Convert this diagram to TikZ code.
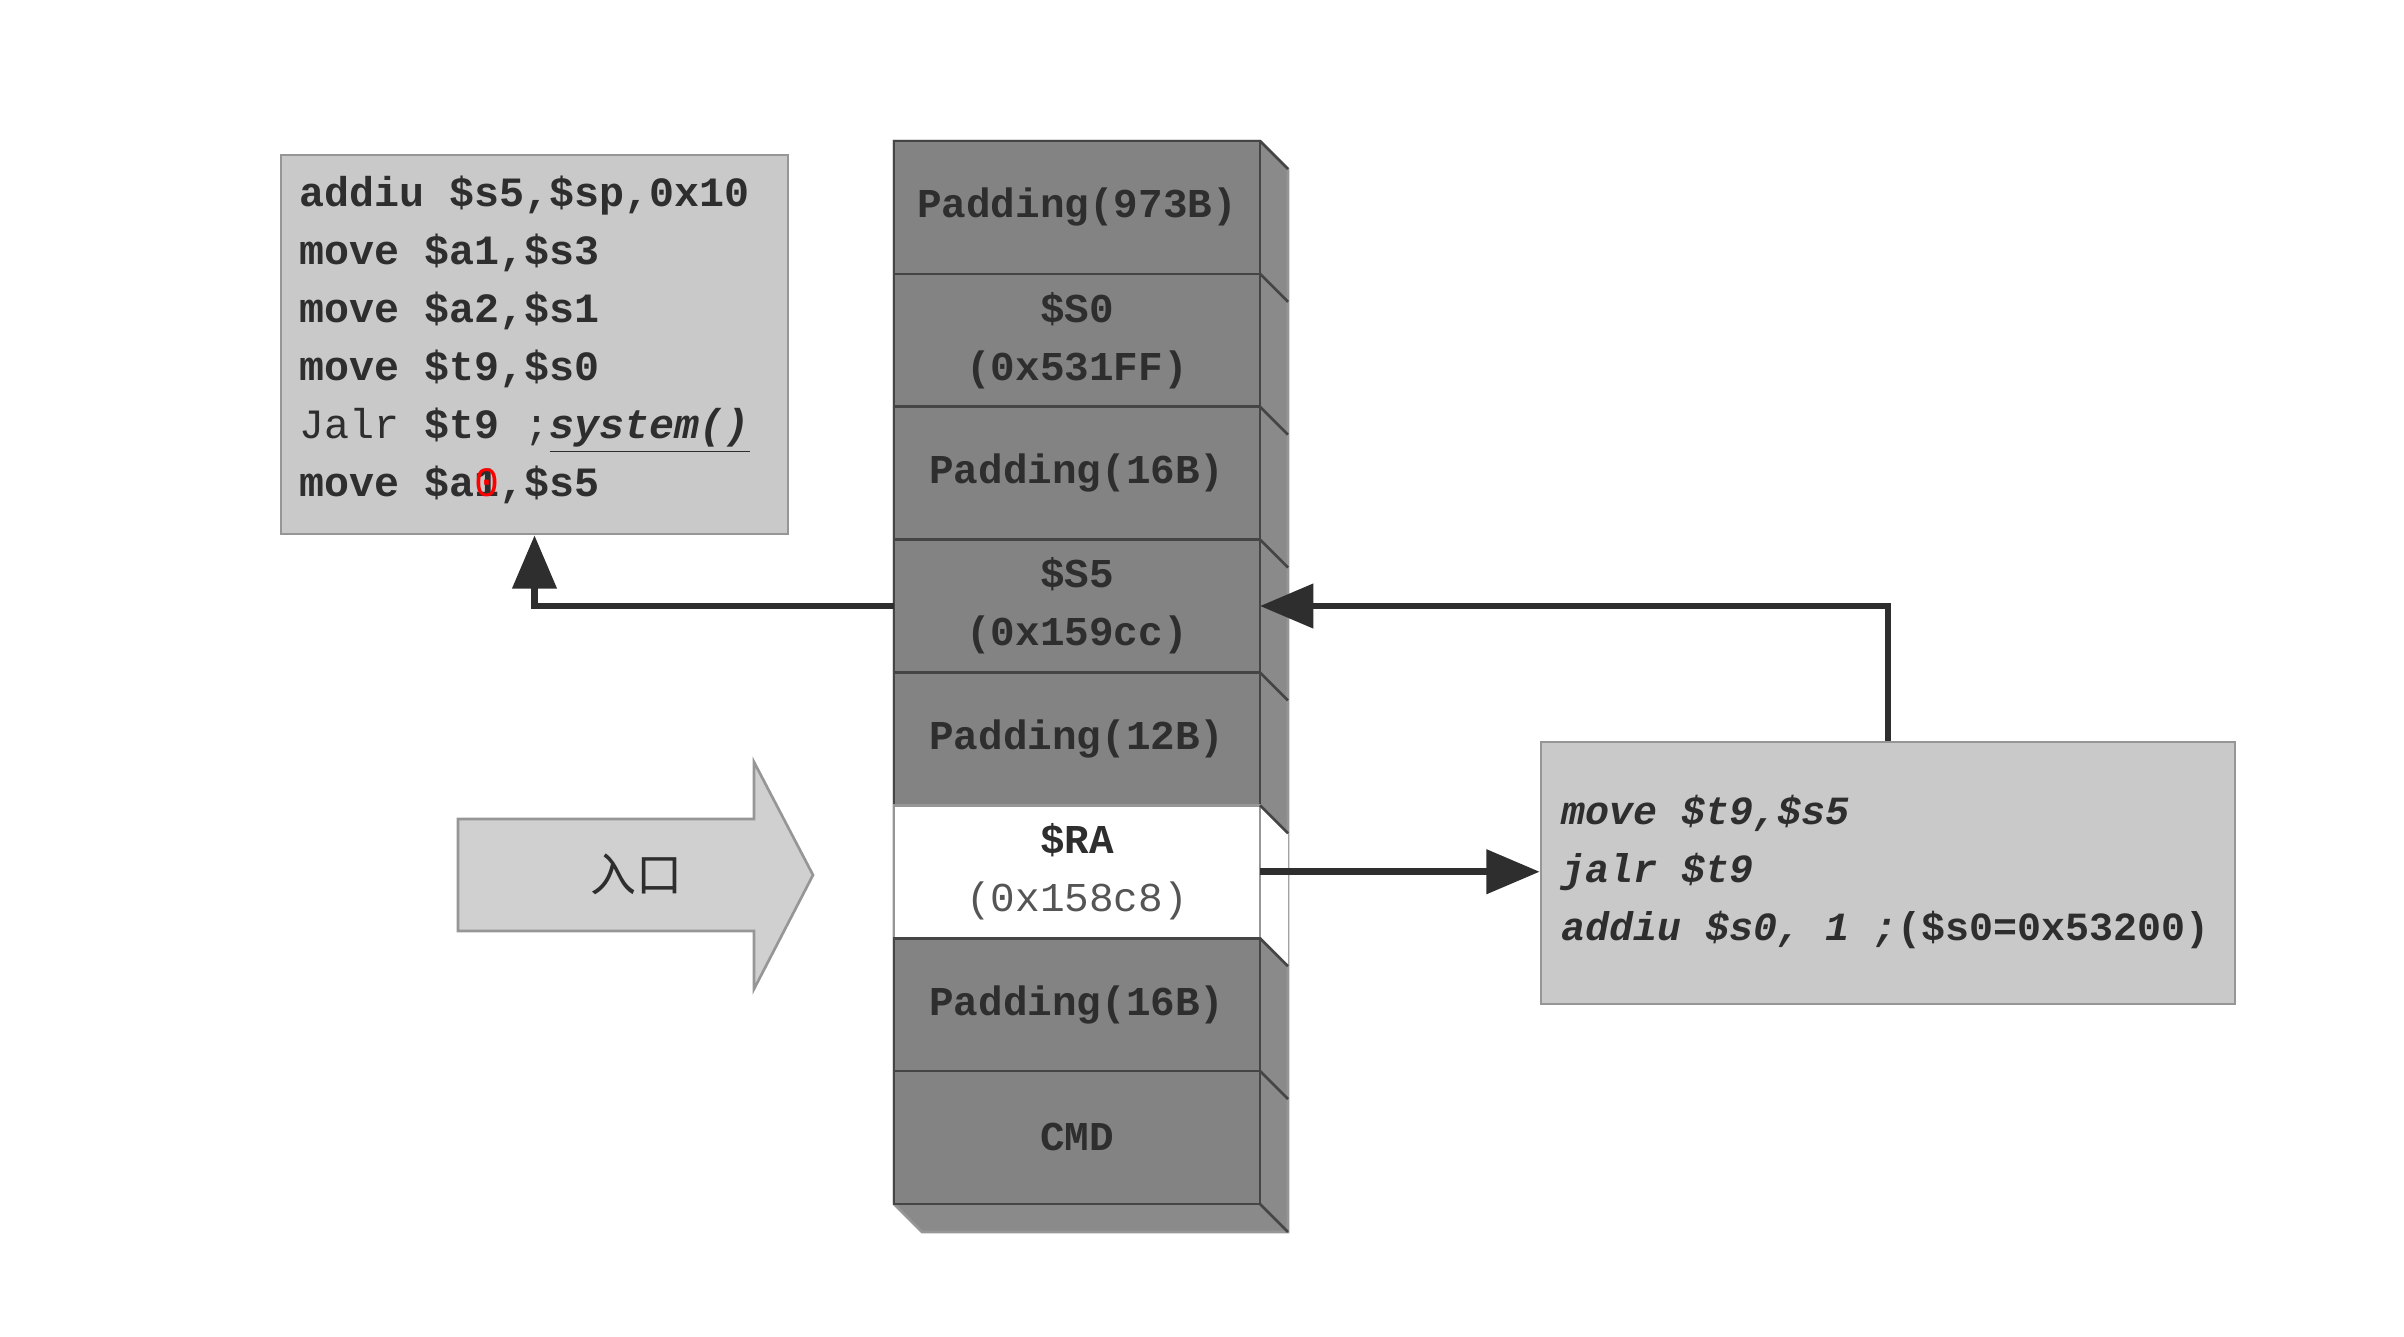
\documentclass[tikz,border=0pt]{standalone}
\usepackage{fontspec}
\setmonofont{Liberation Mono}
\newfontfamily\cjkfont{Noto Sans CJK SC}
\usetikzlibrary{arrows.meta,positioning,calc,backgrounds}
\definecolor{stackgray}{HTML}{838383}
\definecolor{sidegray}{HTML}{8A8A8A}
\definecolor{edgegray}{HTML}{454545}
\definecolor{boxgray}{HTML}{C9C9C9}
\definecolor{boxedge}{HTML}{969696}
\definecolor{entrygray}{HTML}{D0D0D0}
\definecolor{inkgray}{HTML}{2E2E2E}
\definecolor{lightink}{HTML}{555555}
\begin{document}
\begin{tikzpicture}[x=0.3pt,y=-0.3pt,
  stackrow/.style={draw=edgegray, line width=0.8pt, fill=stackgray,
    minimum width=109.8pt, minimum height=39.86pt, inner sep=0pt, outer sep=0pt,
    align=center, text=inkgray,
    font=\ttfamily\bfseries\fontsize{12.3}{17.4}\selectfont},
  whiterow/.style={stackrow, fill=white, draw=boxedge, text=lightink,
    font=\ttfamily\fontsize{12.3}{17.4}\selectfont},
  codebox/.style={draw=boxedge, line width=0.8pt, fill=boxgray, inner sep=0pt},
  codetext/.style={align=left, anchor=west, inner sep=0pt, text=inkgray},
  conn/.style={draw=inkgray, line width=2pt, -{Triangle[width=13pt,length=16pt]}},
  facediag/.style={draw=edgegray, line width=0.8pt},
]
\useasboundingbox (0,0) rectangle (2404,1336);

% memory stack, front face rows
\node[stackrow] (pad1) at (1077,207.4) {Padding(973B)};
\node[stackrow, below=0pt of pad1] (s0) {\$S0\\(0x531FF)};
\node[stackrow, below=0pt of s0] (pad2) {Padding(16B)};
\node[stackrow, below=0pt of pad2] (s5) {\$S5\\(0x159cc)};
\node[stackrow, below=0pt of s5] (pad3) {Padding(12B)};
\node[whiterow, below=0pt of pad3] (ra) {{\bfseries\color{inkgray}\$RA}\\(0x158c8)};
\node[stackrow, below=0pt of ra] (pad4) {Padding(16B)};
\node[stackrow, below=0pt of pad4] (cmd) {CMD};

% side and bottom faces of the stack
\begin{pgfonlayer}{background}
  \fill[sidegray, draw=boxedge, line width=0.8pt]
    (pad1.north west) -- (pad1.north east) -- ++(28,28)
    -- ($(cmd.south east)+(28,28)$) -- ($(cmd.south west)+(28,28)$)
    -- (cmd.south west) -- cycle;
  \fill[white] (ra.north east) -- ++(28,28) -- ($(ra.south east)+(28,28)$)
    -- (ra.south east) -- cycle;
\end{pgfonlayer}
\foreach \r in {s0,pad2,s5,pad3,ra,pad4,cmd}
  \draw[facediag] (\r.north east) -- ++(28,28);
\draw[facediag] (cmd.south east) -- ++(28,28);
\draw[facediag] (pad1.north east) -- ++(28,28);

% gadget at $s5
\node[codebox, minimum width=152.1pt, minimum height=113.7pt] (lcode) at (534.5,344.5) {};
\node[codetext, font=\ttfamily\bfseries\fontsize{12.5}{17.4}\selectfont] (ltext) at (299,339.5)
  {addiu \$s5,\$sp,0x10\\
   move \$a1,\$s3\\
   move \$a2,\$s1\\
   move \$t9,\$s0\\
   {\mdseries Jalr} \$t9 {\mdseries;}\underline{\itshape system()}\\
   move \$a\rlap{1}\textcolor{red}{\mdseries 0},\$s5};

% gadget at $ra
\node[codebox, minimum width=208.2pt, minimum height=78.6pt] (rcode) at (1888,873) {};
\node[codetext, font=\ttfamily\bfseries\itshape\fontsize{12}{17.4}\selectfont] (rtext) at (1561,872)
  {move \$t9,\$s5\\
   jalr \$t9\\
   addiu \$s0, 1 ;{\upshape(\$s0=0x53200)}};

% entry arrow
\draw[draw=boxedge, line width=0.8pt, fill=entrygray]
  (458,819) -- (754,819) -- (754,762) -- (813,875) -- (754,989) -- (754,931) -- (458,931) -- cycle;
\node[text=inkgray, font=\cjkfont\fontsize{13.8}{16}\selectfont] (entry) at (636,874) {入口};

% control flow
\draw[conn] (s5.west) -| (lcode.south);
\draw[conn] (rcode.north) |- (s5.east);
\draw[conn] (ra.east) -- (ra.east -| rcode.west);
\end{tikzpicture}
\end{document}
